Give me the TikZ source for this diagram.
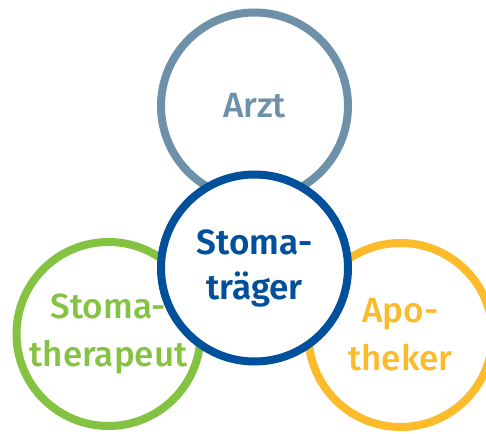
\documentclass[tikz,border=0pt]{standalone}
\usepackage{fontspec}
\setmainfont{Fira Sans Medium}
\newfontfamily\semifont{Fira Sans SemiBold}
\usetikzlibrary{positioning}

\definecolor{arztgrey}{HTML}{6E90A8}
\definecolor{stomablue}{HTML}{00509C}
\definecolor{therapgreen}{HTML}{84C341}
\definecolor{apoyellow}{HTML}{FBBB2B}

\tikzstyle{ring} = [circle, minimum size=187pt, inner sep=0pt, line width=8pt, fill=white, text centered, align=center, font=\fontsize{35}{48}\selectfont]
\tikzstyle{small} = [ring, minimum size=184pt]

\begin{document}
\begin{tikzpicture}[x=1pt, y=1pt, node distance=162pt]
      \useasboundingbox (0,0) rectangle (486,433);
      \clip (0,0) rectangle (486,433);
      \coordinate (mid) at (254.5,165);

      \node (arzt) [ring, draw=arztgrey, text=arztgrey, above of=mid] {Arzt};
      \node (therapeut) [small, draw=therapgreen, text=therapgreen, node distance=146pt, left of=mid, yshift=-66pt] {Stoma-\\therapeut};
      \node (apotheker) [small, draw=apoyellow, text=apoyellow, node distance=146pt, right of=mid, yshift=-67pt] {Apo-\\theker};
      \node (traeger) [ring, draw=stomablue, text=stomablue, font=\fontsize{35}{45}\selectfont\semifont] at (mid) {Stoma-\\träger};
    \end{tikzpicture}
\end{document}
